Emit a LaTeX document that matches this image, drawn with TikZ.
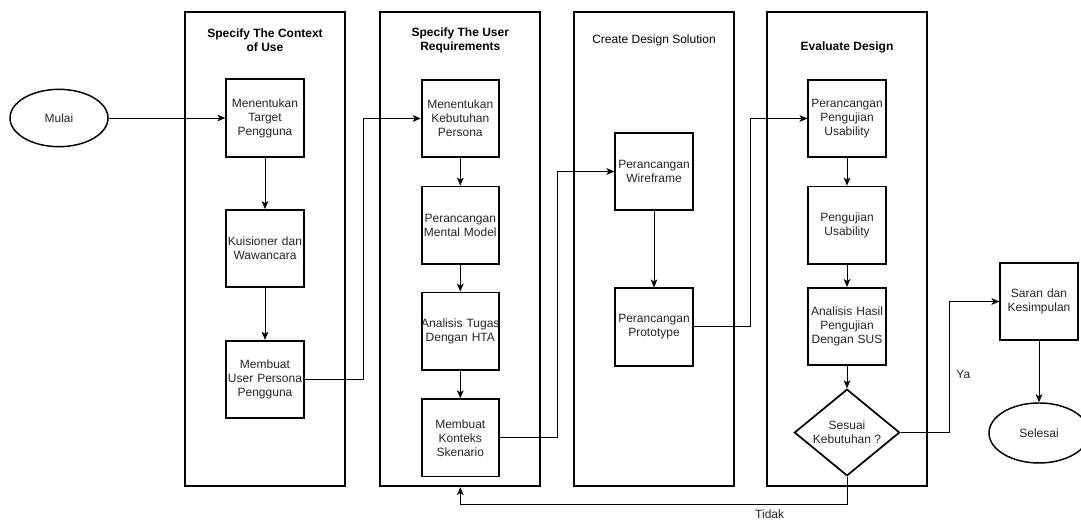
\documentclass[tikz,border=0pt]{standalone}
\usepackage{fontspec}
\setmainfont{Liberation Sans}
\usetikzlibrary{shapes.geometric, arrows.meta, positioning}
\tikzstyle{lane} = [rectangle, draw=black, line width=1.3pt, minimum width=120pt, minimum height=355.5pt]
\tikzstyle{lanetitle} = [align=center, text=black, font=\fontsize{9}{10.5}\selectfont\bfseries]
\tikzstyle{process} = [rectangle, draw=black, line width=1.3pt, fill=white, minimum width=58pt, minimum height=58pt, text width=56pt, inner sep=1pt, align=center]
\tikzstyle{startstop} = [ellipse, draw=black, line width=1.1pt, fill=white, minimum width=73.5pt, minimum height=43pt, inner sep=0pt]
\tikzstyle{decision} = [diamond, draw=black, line width=1.3pt, fill=white, aspect=1.2, minimum width=79pt, minimum height=65pt, inner sep=0pt, align=center]
\tikzstyle{arrow} = [line width=0.75pt, -{Stealth[length=6pt,width=5pt,inset=1.5pt]}]

\begin{document}
\begin{tikzpicture}[x=0.75pt, y=-0.75pt, every node/.style={font=\fontsize{9}{10.5}\selectfont, text=black!85}]
    \useasboundingbox (0,0) rectangle (1081,519);
    % lanes
    \node (lane1) [lane] at (265,249.25) {};
    \node (lane2) [lane] at (460.3,249.25) {};
    \node (lane3) [lane] at (654,249.25) {};
    \node (lane4) [lane] at (847,249.25) {};
    \node (title1) [lanetitle] at (265,40) {Specify The Context\\of Use};
    \node (title2) [lanetitle] at (460.3,40) {Specify The User\\Requirements};
    \node (title3) [lanetitle, font=\fontsize{9}{10.5}\selectfont] at (654,40) {Create Design Solution};
    \node (title4) [lanetitle] at (847,47) {Evaluate Design};

    % context of use
    \node (mulai) [startstop] at (59,118) {Mulai};
    \node (target) [process] at (265,118) {Menentukan\\Target\\Pengguna};
    \node (kuisioner) [process, node distance=98pt, below of=target] {Kuisioner dan\\Wawancara};
    \node (persona) [process, node distance=98pt, below of=kuisioner] {Membuat\\User Persona\\Pengguna};
    \draw [arrow] (mulai) -- (target);
    \draw [arrow] (target) -- (kuisioner);
    \draw [arrow] (kuisioner) -- (persona);

    % user requirements
    \node (kebutuhan) [process] at (460.3,118.5) {Menentukan\\Kebutuhan\\Persona};
    \node (mental) [process, node distance=80pt, below of=kebutuhan] {Perancangan\\Mental Model};
    \node (hta) [process, node distance=79.5pt, below of=mental] {\makebox[56pt]{Analisis Tugas}\\Dengan HTA};
    \node (skenario) [process, node distance=80pt, below of=hta] {Membuat\\Konteks\\Skenario};
    \draw [arrow] (persona.east) -- ++(59,0) |- (kebutuhan.west);
    \draw [arrow] (kebutuhan) -- (mental);
    \draw [arrow] (mental) -- (hta);
    \draw [arrow] (hta) -- (skenario);

    % design solution
    \node (wireframe) [process] at (654,171.5) {Perancangan\\Wireframe};
    \node (prototype) [process, node distance=116.6pt, below of=wireframe] {Perancangan\\Prototype};
    \draw [arrow] (skenario.east) -- ++(58,0) |- (wireframe.west);
    \draw [arrow] (wireframe) -- (prototype);

    % evaluate
    \node (rancanguji) [process] at (847,118.5) {Perancangan\\Pengujian\\Usability};
    \node (pengujian) [process, node distance=80pt, below of=rancanguji] {Pengujian\\Usability};
    \node (analisis) [process, node distance=76pt, below of=pengujian] {Analisis Hasil\\Pengujian\\Dengan SUS};
    \node (sesuai) [decision, node distance=79.5pt, below of=analisis] {Sesuai\\Kebutuhan ?};
    \draw [arrow] (prototype.east) -- ++(57,0) |- (rancanguji.west);
    \draw [arrow] (rancanguji) -- (pengujian);
    \draw [arrow] (pengujian) -- (analisis);
    \draw [arrow] (analisis) -- (sesuai);

    % end
    \node (saran) [process] at (1039,301.5) {Saran dan\\Kesimpulan};
    \node (selesai) [startstop, minimum width=75pt, minimum height=45pt, node distance=98.6pt, below of=saran] {Selesai};
    \draw [arrow] (sesuai.east) -- ++(49,0) |- node[pos=0.22, right, xshift=1.5pt] {Ya} (saran.west);
    \draw [arrow] (saran) -- (selesai);
    \draw [arrow] (sesuai.south) -- ++(0,28) -| node[pos=0.1, below] {Tidak} (lane2.south);
\end{tikzpicture}
\end{document}
